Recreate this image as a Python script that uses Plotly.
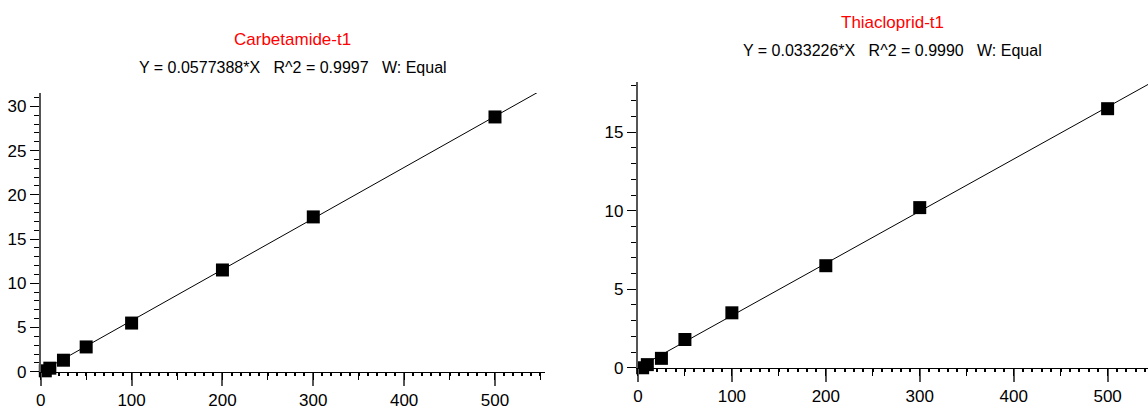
import plotly.graph_objects as go

# calibration levels and measured responses
conc = [5, 10, 25, 50, 100, 200, 300, 500]
carb_resp = [0.1, 0.4, 1.3, 2.8, 5.5, 11.5, 17.5, 28.8]
thia_resp = [0.0, 0.2, 0.6, 1.8, 3.5, 6.5, 10.2, 16.5]

carb_slope = 0.0577388
thia_slope = 0.033226

titles = ["Carbetamide-t1", "Thiacloprid-t1"]
subtitles = ["Y = 0.0577388*X   R^2 = 0.9997   W: Equal",
             "Y = 0.033226*X   R^2 = 0.9990   W: Equal"]

x_max = [555, 543]
y_max = [31.5, 18.2]

FONT = "Liberation Sans Narrow, Arial Narrow, Liberation Sans, Arial, sans-serif"

fig = go.Figure()

for i, (resp, slope) in enumerate([(carb_resp, carb_slope), (thia_resp, thia_slope)]):
    xa = "x" if i == 0 else "x2"
    ya = "y" if i == 0 else "y2"
    fx = [0, x_max[i] * 1.05]
    fig.add_trace(go.Scatter(x=fx, y=[slope * v for v in fx], mode="lines",
                             line=dict(color="black", width=1),
                             xaxis=xa, yaxis=ya, showlegend=False, hoverinfo="skip"))
    fig.add_trace(go.Scatter(x=conc, y=resp, mode="markers",
                             marker=dict(symbol="square", size=13, color="black"),
                             cliponaxis=False, xaxis=xa, yaxis=ya, showlegend=False))
    # dummy trace for the overlay axis carrying the 50-unit ticks
    fig.add_trace(go.Scatter(x=[None], y=[None], xaxis="x3" if i == 0 else "x4", yaxis=ya,
                             showlegend=False, hoverinfo="skip"))


def xaxis(domain, rng, anchor):
    return dict(domain=domain, range=[0, rng], anchor=anchor, showgrid=False, zeroline=False,
                automargin=False, showline=True, linecolor="black", linewidth=1,
                ticks="outside", ticklen=13, tickcolor="#555", tickwidth=2, dtick=100, tick0=0,
                minor=dict(dtick=10, ticklen=3, tickcolor="black", ticks="outside", showgrid=False),
                tickfont=dict(family=FONT, size=17, color="black"))


def yaxis(domain, rng, anchor, dtick, ticklen):
    return dict(domain=domain, range=[0, rng], anchor=anchor, showgrid=False, zeroline=False,
                automargin=False, showline=True, linecolor="#555", linewidth=2,
                ticks="outside", ticklen=ticklen, tickcolor="black", tickwidth=1, dtick=dtick, tick0=0,
                minor=dict(dtick=1, ticklen=5, tickcolor="black", ticks="outside", showgrid=False),
                tickfont=dict(family=FONT, size=17, color="black"))


def overlay(over, rng, anchor):
    return dict(overlaying=over, range=[0, rng], anchor=anchor, side="bottom", showgrid=False,
                automargin=False, zeroline=False, showline=False, showticklabels=False,
                ticks="outside", ticklen=7, tickcolor="black", tickwidth=1, dtick=50, tick0=0)


dom_x1 = [0.0355, 0.4747]
dom_y1 = [0.0934, 0.773]
dom_x2 = [0.5557, 1.0]
dom_y2 = [0.103, 0.80]

fig.update_layout(
    width=1148, height=410,
    margin=dict(l=0, r=0, t=0, b=0),
    paper_bgcolor="white", plot_bgcolor="white",
    xaxis=xaxis(dom_x1, x_max[0], "y"),
    yaxis=yaxis(dom_y1, y_max[0], "x", 5, 9),
    xaxis2=xaxis(dom_x2, x_max[1], "y2"),
    yaxis2=yaxis(dom_y2, y_max[1], "x2", 5, 9),
    xaxis3=overlay("x", x_max[0], "y"),
    xaxis4=overlay("x2", x_max[1], "y2"),
    font=dict(family=FONT, color="black"),
)

title_pos = [(sum(dom_x1) / 2, 40, 67), (sum(dom_x2) / 2, 22, 50)]
for i, (cx, ty, sy) in enumerate(title_pos):
    fig.add_annotation(text=titles[i], x=cx, y=1 - ty / 410, xref="paper", yref="paper",
                       showarrow=False, font=dict(family=FONT, size=17, color="red"),
                       xanchor="center", yanchor="middle")
    fig.add_annotation(text=subtitles[i], x=cx, y=1 - sy / 410, xref="paper", yref="paper",
                       showarrow=False, font=dict(family=FONT, size=16, color="black"),
                       xanchor="center", yanchor="middle")

fig.write_html("out.html", config=dict(displayModeBar=False),
               post_script="document.body.style.margin='0';document.body.style.overflow='hidden';")
